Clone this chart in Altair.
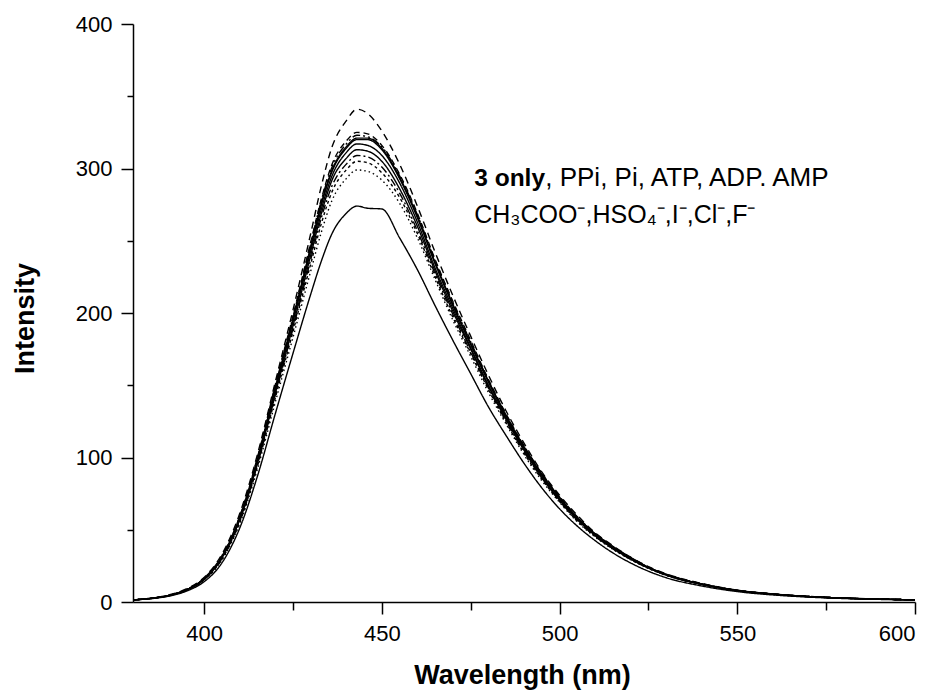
import altair as alt
import pandas as pd

# ---- data ----
wavelength = [380, 385, 390, 395, 400, 405, 410, 415, 420, 425, 430, 433, 436, 440, 443, 446,
              450, 455, 460, 465, 470, 475, 480, 485, 490, 495, 500, 505, 510, 515, 520, 525,
              530, 540, 550, 560, 570, 580, 590, 600]

s_3only = [1.5, 2.5, 4.5, 8.5, 16, 31, 58, 98, 147, 195, 245, 275, 298, 314, 320, 320,
           313, 293, 266, 234, 205, 178, 152, 128, 107, 88, 72, 58, 47, 38, 30.5, 24,
           19, 12.5, 8, 5.5, 3.8, 2.7, 2, 1.5]
s_ppi = [1.5, 2.3, 4, 7.5, 14, 27, 51, 87, 130, 172, 213, 236, 255, 269, 274, 272.5,
         272, 252, 230, 205, 181, 158, 135, 115, 96, 79, 64.5, 52.5, 42.5, 34, 27, 21.3,
         16.8, 11.1, 7.2, 4.9, 3.4, 2.4, 1.8, 1.3]
s_pi = [1.5, 2.6, 4.8, 9, 17, 33, 61, 102, 152, 202, 255, 288, 315, 333, 341, 338,
        326, 303, 274, 242, 212, 184, 157, 132, 110, 90, 74, 60, 48, 39, 31, 24.5,
        19.5, 12.8, 8.2, 5.6, 3.9, 2.8, 2, 1.5]
s_atp = [1.5, 2.5, 4.6, 8.7, 16.5, 32, 59, 100, 150, 198, 249, 279, 303, 319, 325, 324,
         316, 296, 269, 237, 208, 181, 154, 130, 108, 89, 73, 59, 47.5, 38.5, 30.8, 24.2,
         19.2, 12.6, 8.1, 5.5, 3.8, 2.7, 2, 1.5]
s_adp = [1.5, 2.5, 4.5, 8.5, 16, 31, 57, 97, 146, 194, 243, 272, 295, 311, 317, 316,
         309, 290, 263, 231, 203, 176, 150, 127, 106, 87, 71, 57.5, 46.5, 37.5, 30, 23.8,
         18.8, 12.4, 8, 5.5, 3.8, 2.7, 2, 1.5]
s_amp = [1.5, 2.5, 4.4, 8.3, 15.7, 30.5, 57, 96, 144, 191, 240, 269, 292, 307, 313, 312,
         305, 286, 260, 229, 201, 175, 149, 126, 105, 86, 70.5, 57, 46, 37, 29.8, 23.6,
         18.7, 12.3, 7.9, 5.4, 3.7, 2.6, 2, 1.5]
s_ac = [1.5, 2.4, 4.4, 8.2, 15.5, 30, 56, 95, 143, 189, 237, 266, 288, 303, 309, 308,
        301, 283, 257, 227, 199, 173, 148, 125, 104, 86, 70, 56.5, 45.5, 37, 29.6, 23.5,
        18.6, 12.2, 7.9, 5.4, 3.7, 2.6, 2, 1.5]
s_hso4 = [1.5, 2.4, 4.3, 8.1, 15.3, 29.5, 55, 94, 141, 187, 234, 262, 284, 299, 305, 304,
          297, 280, 255, 225, 197, 172, 147, 124, 103, 85, 69.5, 56, 45.5, 36.8, 29.5, 23.4,
          18.5, 12.2, 7.8, 5.3, 3.7, 2.6, 2, 1.5]
s_i = [1.5, 2.4, 4.3, 8, 15, 29, 54, 92, 138, 183, 229, 256, 278, 293, 299, 298,
       292, 276, 252, 223, 195, 170, 145, 123, 102, 84, 69, 55.5, 45, 36.5, 29.3, 23.2,
       18.4, 12.1, 7.8, 5.3, 3.7, 2.6, 2, 1.5]
s_cl = [1.5, 2.5, 4.6, 8.6, 16.3, 31.5, 59, 99, 149, 197, 248, 278, 301, 317, 323, 322,
        315, 295, 268, 236, 207, 180, 153, 129, 108, 89, 72.5, 58.5, 47.3, 38.3, 30.7, 24.1,
        19.1, 12.6, 8.1, 5.5, 3.8, 2.7, 2, 1.5]
s_f = [1.5, 2.5, 4.5, 8.5, 16.1, 31.2, 58.5, 99, 148, 196, 246, 276, 299, 315, 321, 321,
       314, 294, 267, 235, 206, 179, 153, 129, 107.5, 88.5, 72.5, 58.5, 47.3, 38.2, 30.6, 24,
       19, 12.5, 8, 5.5, 3.8, 2.7, 2, 1.5]

series_names = ["3 only", "PPi", "Pi", "ATP", "ADP", "AMP",
                "CH3COO-", "HSO4-", "I-", "Cl-", "F-"]
series_values = [s_3only, s_ppi, s_pi, s_atp, s_adp, s_amp, s_ac, s_hso4, s_i, s_cl, s_f]
series_dash = [[1, 0], [1, 0], [7, 5], [6, 4], [1, 0], [1, 0],
               [8, 3, 2, 3], [3, 3], [1.5, 3], [8, 3, 2, 3, 2, 3], [1, 0]]

x_major = [400, 450, 500, 550, 600]
x_minor = [425, 475, 525, 575]
y_major = [0, 100, 200, 300, 400]
y_minor = [50, 150, 250, 350]

ann_bold = ["3 only"]
ann_rest = [", PPi, Pi, ATP, ADP. AMP"]
ann_line2 = ["CH\u2083COO\u207b,HSO\u2084\u207b,I\u207b,Cl\u207b,F\u207b"]
ann_x = [476]
ann_y1 = [288]
ann_y2 = [262.5]

# ---- build table ----
rows = []
for name, vals in zip(series_names, series_values):
    for w, v in zip(wavelength, vals):
        rows.append({"wl": w, "val": v, "series": name})
df = pd.DataFrame(rows)

FONT = "Liberation Sans"
xscale = alt.Scale(domain=[380, 600], nice=False, zero=False)
yscale = alt.Scale(domain=[0, 400], nice=False)

major_x = alt.Axis(values=x_major, tickSize=12, tickWidth=1.5, tickColor="black",
                   domainColor="black", domainWidth=1.5, labelFont=FONT, labelFontSize=22,
                   labelColor="black", labelPadding=9, grid=False, orient="bottom",
                   titleFont=FONT, titleFontSize=27, titleFontWeight="bold", titleColor="black",
                   titleX=389, titleY=73, titleBaseline="middle", titleAlign="center")
major_y = alt.Axis(values=y_major, tickSize=12, tickWidth=1.5, tickColor="black",
                   domainColor="black", domainWidth=1.5, labelFont=FONT, labelFontSize=22,
                   labelColor="black", labelPadding=9, grid=False, orient="left",
                   titleFont=FONT, titleFontSize=27, titleFontWeight="bold", titleColor="black",
                   titleX=-108, titleY=294, titleBaseline="middle", titleAlign="center",
                   titleAngle=270)
minor_x = alt.Axis(values=x_minor, tickSize=8, tickWidth=1.5, tickColor="black",
                   domain=False, labels=False, grid=False, orient="bottom")
minor_y = alt.Axis(values=y_minor, tickSize=6, tickWidth=1.5, tickColor="black",
                   domain=False, labels=False, grid=False, orient="left")

lines = alt.Chart(df).mark_line(color="black", strokeWidth=1.4, interpolate="monotone").encode(
    x=alt.X("wl:Q", scale=xscale, axis=major_x, title="Wavelength (nm)"),
    y=alt.Y("val:Q", scale=yscale, axis=major_y, title="Intensity"),
    strokeDash=alt.StrokeDash("series:N", scale=alt.Scale(domain=series_names, range=series_dash),
                              legend=None),
    detail="series:N",
)

minor = alt.Chart(df).mark_point(opacity=0).encode(
    x=alt.X("wl:Q", scale=xscale, axis=minor_x, title=None),
    y=alt.Y("val:Q", scale=yscale, axis=minor_y, title=None),
)

ann_df1 = pd.DataFrame({"x": ann_x, "y": ann_y1, "b": ann_bold, "r": ann_rest})
ann_df2 = pd.DataFrame({"x": ann_x, "y": ann_y2, "t": ann_line2})

t_bold = alt.Chart(ann_df1).mark_text(align="left", baseline="alphabetic", font=FONT,
                                      fontSize=24.5, fontWeight="bold", color="black").encode(
    x=alt.X("x:Q", scale=xscale, axis=None), y=alt.Y("y:Q", scale=yscale, axis=None), text="b:N")
t_rest = alt.Chart(ann_df1).mark_text(align="left", baseline="alphabetic", font=FONT,
                                      fontSize=26, color="black", dx=71).encode(
    x=alt.X("x:Q", scale=xscale, axis=None), y=alt.Y("y:Q", scale=yscale, axis=None), text="r:N")
t_line2 = alt.Chart(ann_df2).mark_text(align="left", baseline="alphabetic", font=FONT,
                                       fontSize=25, color="black").encode(
    x=alt.X("x:Q", scale=xscale, axis=None), y=alt.Y("y:Q", scale=yscale, axis=None), text="t:N")

chart = alt.layer(lines, minor, t_bold, t_rest, t_line2).resolve_axis(
    x="independent", y="independent"
).properties(
    width=782, height=578,
    autosize=alt.AutoSizeParams(type="none"),
    padding={"left": 133, "top": 24, "right": 21, "bottom": 89},
    background="white",
).configure_view(strokeWidth=0)

chart.save("out.html", embed_options={"renderer": "svg", "actions": False})
